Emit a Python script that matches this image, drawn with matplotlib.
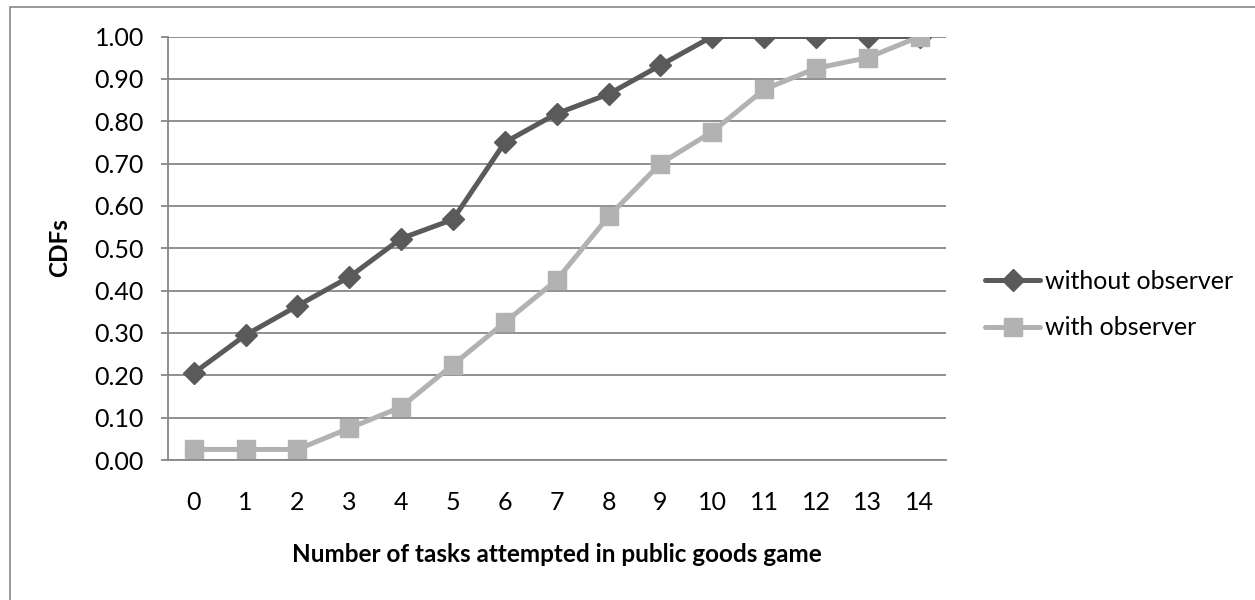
import matplotlib.pyplot as plt
import matplotlib.patches as patches

plt.rcParams['font.family'] = ['Lato', 'DejaVu Sans']

tasks = list(range(15))
without_obs = [0.205, 0.295, 0.364, 0.432, 0.523, 0.568, 0.750, 0.818, 0.864,
               0.932, 1.0, 1.0, 1.0, 1.0, 1.0]
with_obs = [0.025, 0.025, 0.025, 0.075, 0.125, 0.225, 0.325, 0.425, 0.575,
            0.700, 0.775, 0.875, 0.925, 0.950, 1.0]
yticks = [i / 10 for i in range(11)]

grid_c = '#878787'
dark = '#5a5a5a'
light = '#b2b2b2'

fig = plt.figure(figsize=(12.55, 6.0), dpi=100)
ax = fig.add_axes([167.7 / 1255, 1 - 460 / 600, (945.7 - 167.7) / 1255, (460 - 36.5) / 600])

# outer chart border like excel
fig.patches.append(patches.Rectangle((10 / 1255, -0.1), 1.2, 1.1 - 7 / 600,
                                     transform=fig.transFigure, fill=False,
                                     edgecolor=grid_c, linewidth=1.2))

ax.plot(tasks, without_obs, color=dark, lw=3.6, marker='D', markersize=11,
        label='without observer', solid_capstyle='round')
ax.plot(tasks, with_obs, color=light, lw=3.6, marker='s', markersize=13,
        label='with observer', solid_capstyle='round')

ax.set_xlim(-0.5, 14.5)
ax.set_ylim(0, 1)
ax.set_xticks(tasks)
ax.set_yticks(yticks)
ax.set_yticklabels(['%.2f' % v for v in yticks])
ax.grid(axis='y', color=grid_c, linewidth=1.3)
ax.set_axisbelow(True)
for s in ['top', 'right']:
    ax.spines[s].set_visible(False)
for s in ['left', 'bottom']:
    ax.spines[s].set_color(grid_c)
    ax.spines[s].set_linewidth(1.3)
ax.tick_params(axis='y', length=5, width=1.3, color=grid_c, pad=12, labelsize=18)
ax.tick_params(axis='x', length=0, pad=22, labelsize=18)

fig.text(556.7 / 1255, 1 - 555 / 600, 'Number of tasks attempted in public goods game',
         ha='center', va='center', fontsize=17.5, fontweight='bold')
fig.text(60 / 1255, 1 - 248 / 600, 'CDFs', ha='center', va='center', rotation=90,
         fontsize=17.5, fontweight='bold')

ax.legend(loc='center left', bbox_to_anchor=(985 / 1255, 1 - 304.5 / 600),
          bbox_transform=fig.transFigure, frameon=False, fontsize=18,
          handlelength=2.2, handletextpad=0.2, borderpad=0, borderaxespad=0,
          labelspacing=0.95)

fig.savefig('out.png', dpi=100)
